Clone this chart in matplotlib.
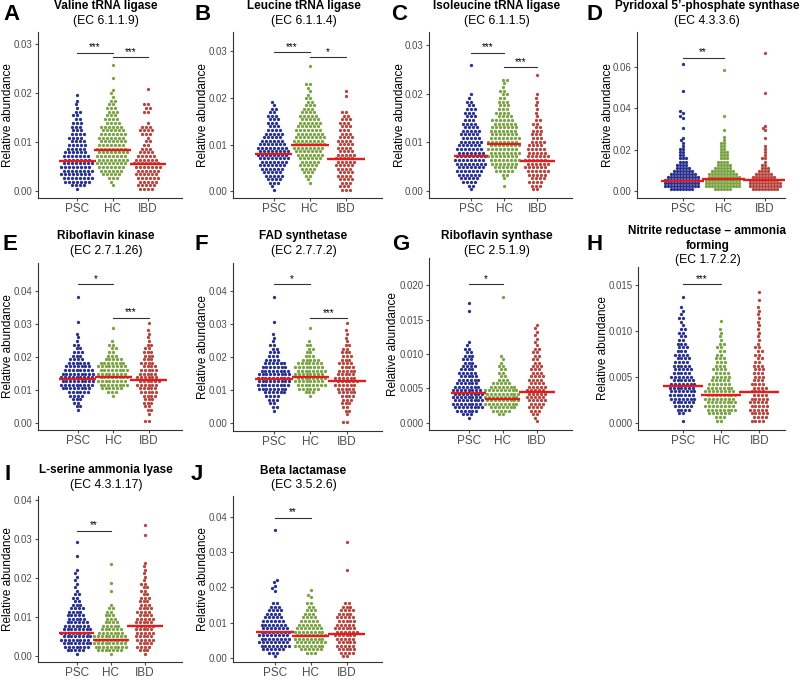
import numpy as np
import matplotlib
matplotlib.use('Agg')
import matplotlib.pyplot as plt

plt.rcParams['font.family'] = ['Liberation Sans', 'DejaVu Sans']

groups = ['PSC', 'HC', 'IBD']
group_colors = ['#28318F', '#7AA344', '#B3463F']
median_color = '#E41A1C'

# Isolated points away from the body are listed as raw values.

# A  Valine tRNA ligase
valine_bin = 0.00075
valine_psc = [1, 4, 7, 8, 8, 8, 8, 8, 7, 7, 6, 5, 5, 4, 4, 4, 3, 3, 3, 2,
              2, 2, 1, 1, 1]
valine_hc = [0, 1, 1, 3, 5, 6, 7, 8, 8, 8, 8, 8, 7, 7, 7, 7, 6, 6, 4, 4,
             3, 3, 3, 2, 2, 1, 1, 1]
valine_ibd = [4, 5, 5, 6, 6, 6, 7, 7, 6, 5, 4, 3, 2, 2, 1, 3, 4, 3, 1, 0,
              0, 2, 2, 2]
valine_out = [[0.0195], [0.0231, 0.0257], [0.0207]]
valine_median = [0.0060, 0.0084, 0.0055]
valine_sig = [(1, 2, 0.0282, '***'), (2, 3, 0.0273, '***')]

# B  Leucine tRNA ligase
leucine_bin = 0.00075
leucine_psc = [1, 1, 3, 4, 5, 5, 6, 7, 7, 8, 8, 8, 8, 7, 6, 5, 5, 4, 3, 3,
               3, 3, 2, 2, 1, 1]
leucine_hc = [0, 0, 1, 1, 2, 3, 4, 5, 5, 6, 7, 7, 8, 8, 8, 8, 7, 7, 6, 6,
              5, 5, 4, 3, 3, 2, 2, 1, 1, 1, 2]
leucine_ibd = [3, 3, 3, 4, 4, 4, 4, 5, 5, 5, 5, 4, 4, 4, 4, 4, 3, 3, 3, 3,
               3, 2, 2]
leucine_out = [[], [0.0268], [0.0205, 0.0215]]
leucine_median = [0.0080, 0.0100, 0.0069]
leucine_sig = [(1, 2, 0.0298, '***'), (2, 3, 0.0287, '*')]

# C  Isoleucine tRNA ligase
isoleucine_bin = 0.00075
isoleucine_psc = [1, 2, 4, 5, 6, 7, 7, 8, 8, 8, 7, 7, 6, 6, 5, 5, 5, 4, 4, 3,
                  3, 3, 3, 2, 2, 1, 1]
isoleucine_hc = [0, 1, 0, 1, 2, 5, 6, 7, 8, 8, 8, 8, 8, 8, 8, 7, 7, 7, 6, 6,
                 4, 4, 3, 3, 3, 2, 2, 2, 1, 1, 2]
isoleucine_ibd = [2, 3, 4, 4, 5, 6, 6, 6, 6, 6, 5, 5, 4, 4, 3, 3, 3, 2, 2, 2,
                  1, 1, 1, 1, 1, 1, 1]
isoleucine_out = [[0.0258], [], [0.0237]]
isoleucine_median = [0.0073, 0.0097, 0.0063]
isoleucine_sig = [(1, 2, 0.0284, '***'), (2, 3, 0.0254, '***')]

# D  Pyridoxal 5'-phosphate synthase
pyridoxal_bin = 0.0015
pyridoxal_psc = [8, 12, 12, 12, 11, 9, 7, 5, 4, 3, 3, 2, 2, 2, 1, 1]
pyridoxal_hc = [6, 12, 12, 12, 11, 10, 8, 6, 5, 4, 3, 3, 3, 2, 2, 2, 1, 1]
pyridoxal_ibd = [9, 11, 11, 10, 8, 6, 4, 3, 2, 1, 2, 1, 1, 1, 1]
pyridoxal_out = [[0.0245, 0.0255, 0.0305, 0.0355, 0.0365, 0.0375, 0.0385, 0.0485, 0.0615],
                 [0.0295, 0.0365, 0.0585],
                 [0.0255, 0.0295, 0.0305, 0.0315, 0.0475, 0.0665]]
pyridoxal_median = [0.0050, 0.0060, 0.0055]
pyridoxal_sig = [(1, 2, 0.0645, '**')]

# E  Riboflavin kinase (panel F, FAD synthetase, shows the same swarm)
kinase_bin = 0.0011
kinase_psc = [0, 0, 0, 1, 2, 2, 3, 4, 6, 8, 9, 9, 9, 9, 8, 7, 6, 4, 3, 3,
              2, 2, 1, 1, 1]
kinase_hc = [0, 0, 0, 0, 0, 0, 0, 1, 3, 6, 8, 8, 8, 8, 8, 8, 7, 5, 3, 2,
             2, 2, 1]
kinase_ibd = [2, 0, 1, 2, 2, 3, 3, 4, 5, 5, 6, 6, 6, 5, 5, 4, 4, 3, 3, 3,
              2, 2, 1, 1, 1, 1, 0, 1]
kinase_out = [[0.0306, 0.0380], [0.0287], []]
kinase_median = [0.0133, 0.0140, 0.0128]
kinase_sig = [(1, 2, 0.0420, '*'), (2, 3, 0.0318, '***')]

# G  Riboflavin synthase
synthase_bin = 0.0005
synthase_psc = [0, 1, 3, 6, 8, 8, 8, 8, 8, 8, 7, 6, 6, 5, 5, 4, 4, 3, 3, 3,
                2, 2, 1, 1]
synthase_hc = [0, 0, 2, 5, 7, 9, 9, 9, 9, 9, 7, 5, 3, 2, 2, 2, 2, 1, 1, 1]
synthase_ibd = [1, 1, 2, 3, 4, 4, 5, 5, 5, 5, 5, 4, 4, 4, 3, 3, 3, 2, 2, 2,
                2, 2, 1, 1, 1, 1, 1, 1, 1]
synthase_out = [[0.0163, 0.0175], [0.0183], []]
synthase_median = [0.0043, 0.0035, 0.0044]
synthase_sig = [(1, 2, 0.0202, '*')]

# H  Nitrite reductase - ammonia forming
nitrite_bin = 0.0004
nitrite_psc = [1, 0, 2, 4, 5, 6, 7, 7, 7, 7, 7, 6, 6, 5, 5, 5, 4, 4, 4, 3,
               3, 3, 2, 2, 2, 2, 1, 1, 2, 1, 1, 1]
nitrite_hc = [2, 3, 6, 8, 8, 8, 8, 8, 8, 7, 6, 5, 5, 4, 4, 3, 3, 3, 2, 2,
              2, 2, 1, 1, 1, 1]
nitrite_ibd = [4, 4, 5, 5, 5, 5, 5, 4, 4, 4, 4, 3, 3, 3, 3, 3, 2, 2, 2, 2,
               2, 1, 1, 1, 1, 1, 1, 1, 1, 1, 1, 1, 0, 1, 0, 1]
nitrite_out = [[0.0137], [0.0111], []]
nitrite_median = [0.0040, 0.0030, 0.0033]
nitrite_sig = [(1, 2, 0.0151, '***')]

# I  L-serine ammonia lyase
serine_bin = 0.0009
serine_psc = [1, 5, 7, 8, 8, 8, 8, 8, 7, 6, 5, 5, 4, 4, 3, 2, 2, 2, 1, 1,
              1, 1, 1, 1, 1]
serine_hc = [1, 7, 9, 9, 9, 9, 7, 6, 5, 4, 3, 3, 2, 2, 1]
serine_ibd = [1, 3, 4, 4, 5, 5, 5, 5, 5, 5, 5, 4, 4, 4, 3, 3, 3, 2, 2, 2,
              2, 1, 1, 1, 1, 1, 1]
serine_out = [[0.0255, 0.0290], [0.0167, 0.0187, 0.0234], [0.0310, 0.0335]]
serine_median = [0.0058, 0.0040, 0.0077]
serine_sig = [(1, 2, 0.0320, '**')]

# J  Beta lactamase
lactamase_bin = 0.001
lactamase_psc = [1, 3, 6, 8, 8, 8, 8, 8, 7, 7, 6, 5, 4, 4, 3, 2]
lactamase_hc = [0, 3, 6, 8, 8, 8, 8, 8, 7, 6, 5, 4, 3, 3, 2, 2]
lactamase_ibd = [2, 4, 5, 5, 5, 5, 6, 6, 6, 5, 5, 5, 4, 4, 3, 2]
lactamase_out = [[0.0190, 0.0198, 0.0205, 0.0215, 0.0222, 0.0362],
                 [0.0172, 0.0180, 0.0193],
                 [0.0250, 0.0330]]
lactamase_median = [0.0075, 0.0062, 0.0068]
lactamase_sig = [(1, 2, 0.0397, '**')]

panels = [
    ('A', ['Valine tRNA ligase'], '(EC 6.1.1.9)', valine_bin,
     [valine_psc, valine_hc, valine_ibd], valine_out, valine_median, valine_sig,
     [0, 0.01, 0.02, 0.03], '%.2f'),
    ('B', ['Leucine tRNA ligase'], '(EC 6.1.1.4)', leucine_bin,
     [leucine_psc, leucine_hc, leucine_ibd], leucine_out, leucine_median, leucine_sig,
     [0, 0.01, 0.02, 0.03], '%.2f'),
    ('C', ['Isoleucine tRNA ligase'], '(EC 6.1.1.5)', isoleucine_bin,
     [isoleucine_psc, isoleucine_hc, isoleucine_ibd], isoleucine_out, isoleucine_median,
     isoleucine_sig, [0, 0.01, 0.02, 0.03], '%.2f'),
    ('D', ['Pyridoxal 5\u2019-phosphate synthase'], '(EC 4.3.3.6)', pyridoxal_bin,
     [pyridoxal_psc, pyridoxal_hc, pyridoxal_ibd], pyridoxal_out, pyridoxal_median,
     pyridoxal_sig, [0, 0.02, 0.04, 0.06], '%.2f'),
    ('E', ['Riboflavin kinase'], '(EC 2.7.1.26)', kinase_bin,
     [kinase_psc, kinase_hc, kinase_ibd], kinase_out, kinase_median, kinase_sig,
     [0, 0.01, 0.02, 0.03, 0.04], '%.2f'),
    ('F', ['FAD synthetase'], '(EC 2.7.7.2)', kinase_bin,
     [kinase_psc, kinase_hc, kinase_ibd], kinase_out, kinase_median, kinase_sig,
     [0, 0.01, 0.02, 0.03, 0.04], '%.2f'),
    ('G', ['Riboflavin synthase'], '(EC 2.5.1.9)', synthase_bin,
     [synthase_psc, synthase_hc, synthase_ibd], synthase_out, synthase_median, synthase_sig,
     [0, 0.005, 0.01, 0.015, 0.02], '%.3f'),
    ('H', ['Nitrite reductase \u2013 ammonia', 'forming'], '(EC 1.7.2.2)', nitrite_bin,
     [nitrite_psc, nitrite_hc, nitrite_ibd], nitrite_out, nitrite_median, nitrite_sig,
     [0, 0.005, 0.01, 0.015], '%.3f'),
    ('I', ['L-serine ammonia lyase'], '(EC 4.3.1.17)', serine_bin,
     [serine_psc, serine_hc, serine_ibd], serine_out, serine_median, serine_sig,
     [0, 0.01, 0.02, 0.03, 0.04], '%.2f'),
    ('J', ['Beta lactamase'], '(EC 3.5.2.6)', lactamase_bin,
     [lactamase_psc, lactamase_hc, lactamase_ibd], lactamase_out, lactamase_median,
     lactamase_sig, [0, 0.01, 0.02, 0.03, 0.04], '%.2f'),
]

# layout in pixels: axes box (left, top, right, bottom), limits, dot spacing
W, H = 800, 680
boxes = [(38, 32, 182, 198), (233, 32, 382, 198), (429, 32, 572, 198), (637, 32, 785, 198),
         (38, 263, 182, 430), (233, 263, 382, 431), (429, 258, 572, 430), (638, 267, 785, 430),
         (38, 496, 182, 662), (233, 496, 382, 662)]
xlims = [(-0.11, 3.96), (-0.12, 3.99), (-0.26, 4.04), (-0.11, 3.49), (-0.12, 3.94),
         (-0.13, 3.97), (-0.16, 4.03), (-0.17, 3.67), (-0.13, 4.08), (-0.17, 3.99)]
ylims = [(-0.00145, 0.0324), (-0.00143, 0.0341), (-0.00137, 0.0326), (-0.0034, 0.0769),
         (-0.0022, 0.0484), (-0.0023, 0.0484), (-0.00107, 0.0240), (-0.0008, 0.01696),
         (-0.0016, 0.0409), (-0.0011, 0.0459)]
gaps = [4.0, 4.0, 4.0, 3.0, 3.8, 3.8, 3.9, 3.9, 3.8, 3.9]
ylabel_off = [30, 29.5, 29, 29, 30, 29.5, 35.5, 35.5, 30, 29.5]
letter_x = [3, 195, 391, 586, 3, 195, 392, 586, 4, 191]
letter_y = [15, 15, 15, 15, 244, 244, 244, 244, 475, 475]
ec_y = [21, 21, 21, 21, 250.7, 250.7, 250.7, 260, 485, 485]


def swarm(ypx, d):
    # greedy beeswarm: each point takes the free spot nearest the centre line
    xs = np.zeros(len(ypx))
    px, py = [], []
    for idx in np.argsort(ypx, kind='stable'):
        y = ypx[idx]
        near = [(a, c) for a, c in zip(px, py) if abs(c - y) < d]
        cands = [0.0]
        for a, c in near:
            dx = np.sqrt(d * d - (c - y) ** 2)
            cands += [a - dx, a + dx]
        cands.sort(key=lambda v: (round(abs(v), 6), v))
        for v in cands:
            if all((v - a) ** 2 + (y - c) ** 2 >= d * d - 1e-6 for a, c in near):
                xs[idx] = v
                break
        px.append(xs[idx])
        py.append(y)
    return xs


fig = plt.figure(figsize=(W / 100, H / 100), dpi=100)

for i, (letter, names, ec, width, counts, outs, medians, sig, ticks, fmt) in enumerate(panels):
    l, t, r, b = boxes[i]
    ax = fig.add_axes([l / W, 1 - b / H, (r - l) / W, (b - t) / H])
    ax.set_xlim(xlims[i])
    ax.set_ylim(ylims[i])
    px_per_x = (r - l) / (xlims[i][1] - xlims[i][0])
    px_per_y = (b - t) / (ylims[i][1] - ylims[i][0])

    for g in range(3):
        c = np.array(counts[g])
        vals = np.repeat((np.arange(len(c)) + 0.5) * width, c)
        vals = np.concatenate([vals, outs[g]])
        off = swarm(vals * px_per_y, gaps[i])
        ax.scatter(g + 1 + off / px_per_x, vals, s=5.6, color=group_colors[g],
                   linewidths=0, zorder=2)
        ax.plot([g + 0.48, g + 1.52], [medians[g], medians[g]], color=median_color,
                lw=1.7, zorder=3, solid_capstyle='butt')

    for x1, x2, y, stars in sig:
        ax.plot([x1, x2], [y, y], color='#333333', lw=0.8, zorder=3)
        ax.annotate(stars, ((x1 + x2) / 2, y), xytext=(0, 0.3), textcoords='offset points',
                    ha='center', va='bottom', fontsize=7, color='black')

    ax.set_xticks([1, 2, 3])
    ax.set_xticklabels(groups)
    ax.set_yticks(ticks)
    ax.set_yticklabels([fmt % v for v in ticks])
    ax.tick_params(axis='x', labelsize=8.5, colors='#4D4D4D', length=2.5, width=0.8, pad=1)
    ax.tick_params(axis='y', labelsize=7, colors='#4D4D4D', length=2.5, width=0.8, pad=1.5)
    for side in ['top', 'right']:
        ax.spines[side].set_visible(False)
    for side in ['left', 'bottom']:
        ax.spines[side].set_color('#333333')
        ax.spines[side].set_linewidth(0.8)
    ax.text(-ylabel_off[i] / (r - l), 0.5, 'Relative abundance', transform=ax.transAxes,
            rotation=90, ha='center', va='center', fontsize=8.5)

    cx = ((l + r) / 2 - 4) / W
    fig.text(cx, 1 - ec_y[i] / H, ec, ha='center', va='center', fontsize=8.8)
    for j, name in enumerate(reversed(names)):
        fig.text(cx, 1 - (ec_y[i] - 14.5 * (j + 1)) / H, name, ha='center', va='center',
                 fontsize=8.5, fontweight='bold')
    fig.text(letter_x[i] / W, 1 - letter_y[i] / H, letter, ha='left', va='center',
             fontsize=16, fontweight='bold')

fig.savefig('out.png', dpi=100)
